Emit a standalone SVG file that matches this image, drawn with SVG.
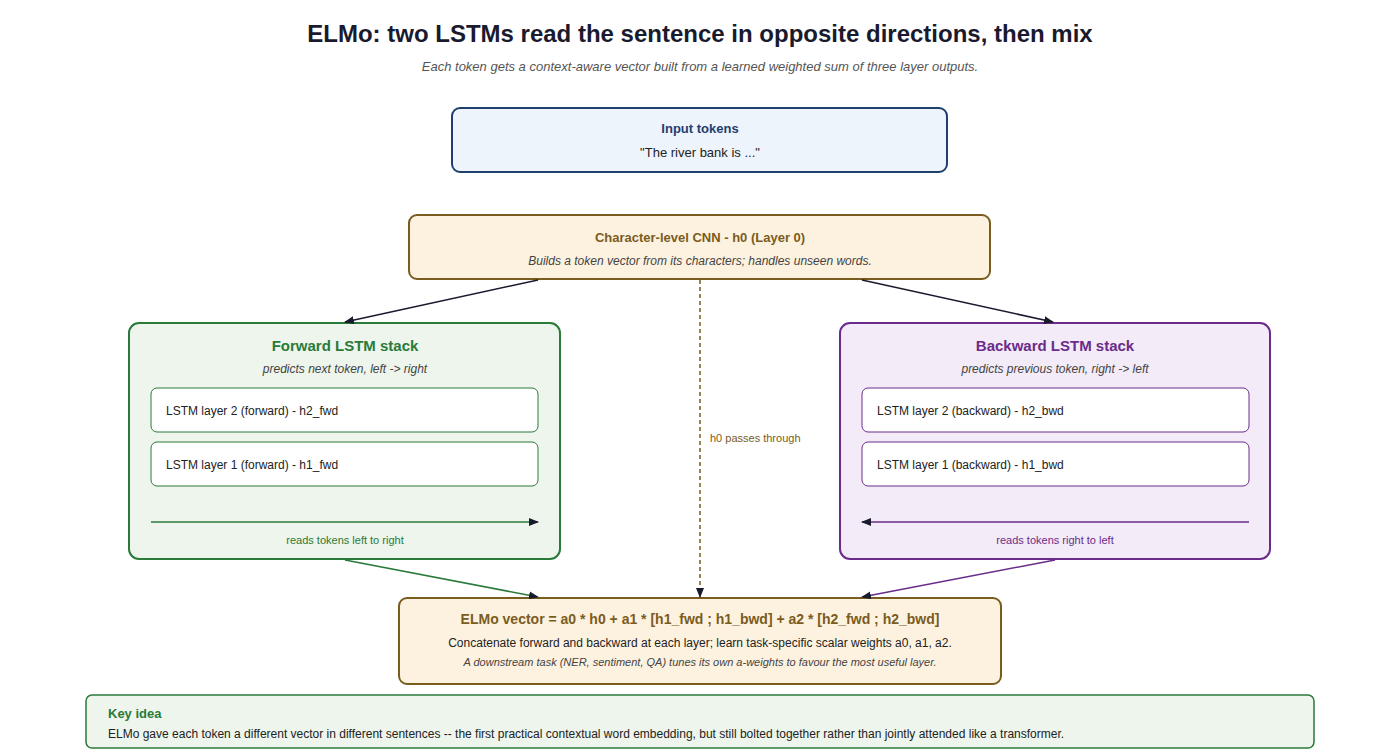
<svg xmlns="http://www.w3.org/2000/svg" width="1400" height="754" viewBox="0 0 1400 754">
<defs>
<style>
text{font-family:"Liberation Sans",Arial,sans-serif}
.t{font-weight:bold}
.i{font-style:italic}
</style>
<marker id="ak" markerWidth="10" markerHeight="8" refX="9" refY="4" orient="auto" markerUnits="userSpaceOnUse"><path d="M0,0L10,4L0,8z" fill="#1a1a2e"/></marker>
<marker id="ag" markerWidth="10" markerHeight="8" refX="9" refY="4" orient="auto" markerUnits="userSpaceOnUse"><path d="M0,0L10,4L0,8z" fill="#1a1a2e"/></marker>
<marker id="ab" markerWidth="10" markerHeight="8" refX="9" refY="4" orient="auto" markerUnits="userSpaceOnUse"><path d="M0,0L10,4L0,8z" fill="#1a1a2e"/></marker>
<marker id="ap" markerWidth="10" markerHeight="8" refX="9" refY="4" orient="auto" markerUnits="userSpaceOnUse"><path d="M0,0L10,4L0,8z" fill="#6a2c8a"/></marker>
<marker id="agr" markerWidth="10" markerHeight="8" refX="9" refY="4" orient="auto" markerUnits="userSpaceOnUse"><path d="M0,0L10,4L0,8z" fill="#2a7a3a"/></marker>
</defs>
<rect width="1400" height="754" fill="#fff"/>
<text x="700" y="42" text-anchor="middle" class="t" font-size="24" fill="#1a1a2e">ELMo: two LSTMs read the sentence in opposite directions, then mix</text>
<text x="700" y="71" text-anchor="middle" class="i" font-size="13" fill="#555">Each token gets a context-aware vector built from a learned weighted sum of three layer outputs.</text>
<g id="input"><rect x="452" y="108" width="495" height="64" rx="8" fill="#eef4fb" stroke="#1f3f6e" stroke-width="2"/>
<text x="700" y="133" text-anchor="middle" class="t" font-size="13" fill="#1f3f6e">Input tokens</text>
<text x="700" y="157" text-anchor="middle" font-size="13" fill="#222">"The river bank is ..."</text></g>
<g id="cnn"><rect x="409" y="215" width="581" height="64" rx="8" fill="#fdf2e0" stroke="#7a5c1e" stroke-width="2"/>
<text x="700" y="242" text-anchor="middle" class="t" font-size="13" fill="#7a5c1e">Character-level CNN - h0 (Layer 0)</text>
<text x="700" y="265" text-anchor="middle" class="i" font-size="12" fill="#444">Builds a token vector from its characters; handles unseen words.</text></g>
<g id="forward"><rect x="129" y="323" width="431" height="236" rx="10" fill="#edf5ec" stroke="#2a7a3a" stroke-width="2"/>
<text x="345" y="351" text-anchor="middle" class="t" font-size="15" fill="#2a7a3a">Forward LSTM stack</text>
<text x="345" y="373" text-anchor="middle" class="i" font-size="12" fill="#444">predicts next token, left -&gt; right</text>
<rect x="151" y="388" width="387" height="44" rx="6" fill="#fff" stroke="#2a7a3a"/>
<text x="166" y="415" font-size="12" fill="#222">LSTM layer 2 (forward) - h2_fwd</text>
<rect x="151" y="442" width="387" height="44" rx="6" fill="#fff" stroke="#2a7a3a"/>
<text x="166" y="469" font-size="12" fill="#222">LSTM layer 1 (forward) - h1_fwd</text>
<line x1="151" y1="522" x2="538" y2="522" stroke="#2a7a3a" stroke-width="1.5" marker-end="url(#ab)"/>
<text x="345" y="544" text-anchor="middle" font-size="11" fill="#2a7a3a">reads tokens left to right</text></g>
<g id="backward"><rect x="840" y="323" width="430" height="236" rx="10" fill="#f3ebf7" stroke="#6a2c8a" stroke-width="2"/>
<text x="1055" y="351" text-anchor="middle" class="t" font-size="15" fill="#6a2c8a">Backward LSTM stack</text>
<text x="1055" y="373" text-anchor="middle" class="i" font-size="12" fill="#444">predicts previous token, right -&gt; left</text>
<rect x="862" y="388" width="387" height="44" rx="6" fill="#fff" stroke="#6a2c8a"/>
<text x="877" y="415" font-size="12" fill="#222">LSTM layer 2 (backward) - h2_bwd</text>
<rect x="862" y="442" width="387" height="44" rx="6" fill="#fff" stroke="#6a2c8a"/>
<text x="877" y="469" font-size="12" fill="#222">LSTM layer 1 (backward) - h1_bwd</text>
<line x1="1249" y1="522" x2="862" y2="522" stroke="#6a2c8a" stroke-width="1.5" marker-end="url(#ab)"/>
<text x="1055" y="544" text-anchor="middle" font-size="11" fill="#6a2c8a">reads tokens right to left</text></g>
<g id="elmo"><rect x="399" y="598" width="602" height="86" rx="8" fill="#fdf2e0" stroke="#7a5c1e" stroke-width="2"/>
<text x="700" y="624" text-anchor="middle" class="t" font-size="14" fill="#7a5c1e">ELMo vector = a0 * h0 + a1 * [h1_fwd ; h1_bwd] + a2 * [h2_fwd ; h2_bwd]</text>
<text x="700" y="647" text-anchor="middle" font-size="12" fill="#222">Concatenate forward and backward at each layer; learn task-specific scalar weights a0, a1, a2.</text>
<text x="700" y="666" text-anchor="middle" class="i" font-size="11" fill="#444">A downstream task (NER, sentiment, QA) tunes its own a-weights to favour the most useful layer.</text></g>
<g id="keyidea"><rect x="86" y="695" width="1228" height="53" rx="6" fill="#edf5ec" stroke="#2a7a3a" stroke-width="1.5"/>
<text x="108" y="718" class="t" font-size="13" fill="#2a7a3a">Key idea</text>
<text x="108" y="738" font-size="12" fill="#222">ELMo gave each token a different vector in different sentences -- the first practical contextual word embedding, but still bolted together rather than jointly attended like a transformer.</text></g>
<g id="connectors" fill="none" stroke-width="1.5">
<line x1="538" y1="280" x2="345" y2="322" stroke="#1a1a2e" marker-end="url(#ak)"/>
<line x1="862" y1="280" x2="1053" y2="322" stroke="#1a1a2e" marker-end="url(#ak)"/>
<line x1="700" y1="280" x2="700" y2="597" stroke="#7a5c1e" stroke-dasharray="4,3" marker-end="url(#ak)"/>
<line x1="345" y1="560" x2="538" y2="597" stroke="#2a7a3a" marker-end="url(#ak)"/>
<line x1="1055" y1="560" x2="862" y2="597" stroke="#6a2c8a" marker-end="url(#ak)"/>
</g>
<text x="710" y="442" font-size="11" fill="#7a5c1e">h0 passes through</text>
</svg>
